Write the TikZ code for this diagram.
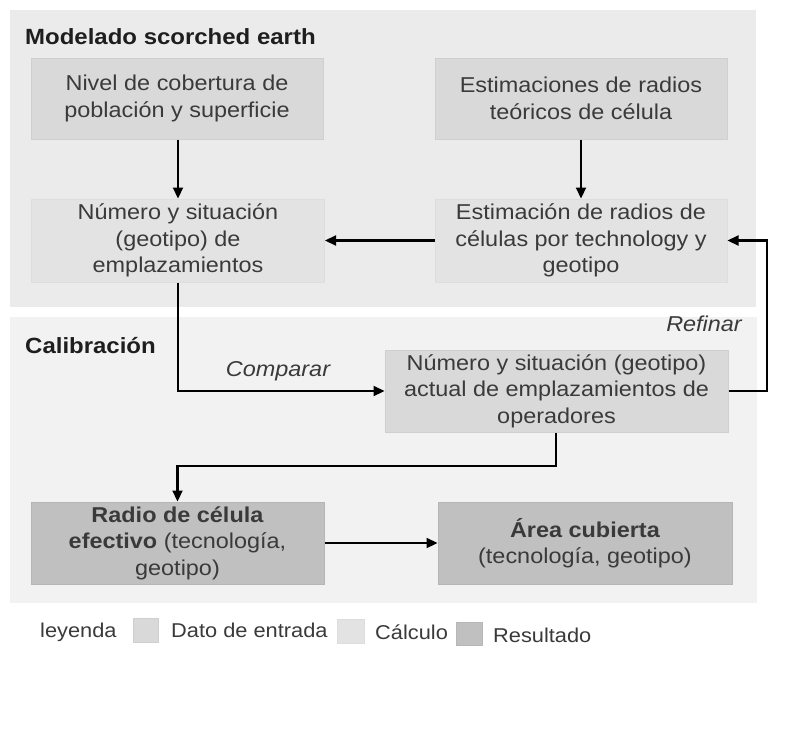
\documentclass[tikz,border=0pt]{standalone}
\usepackage{fontspec}
\setmainfont{Liberation Sans}[FakeStretch=1.09]
\usetikzlibrary{arrows.meta}
\definecolor{panelA}{HTML}{EBEBEB}
\definecolor{panelB}{HTML}{F2F2F2}
\definecolor{inputfill}{HTML}{D9D9D9}
\definecolor{inputline}{HTML}{CFCFCF}
\definecolor{calcfill}{HTML}{E3E3E3}
\definecolor{calcline}{HTML}{DDDDDD}
\definecolor{resfill}{HTML}{C0C0C0}
\definecolor{resline}{HTML}{B6B6B6}
\definecolor{boxtext}{HTML}{3A3A3A}
\definecolor{headtext}{HTML}{1E1E1E}
\begin{document}
\begin{tikzpicture}[x=1pt,y=-1pt,
  boxbase/.style={rectangle, align=center, inner sep=0pt, line width=1pt,
    text=boxtext, font=\fontsize{21.5}{26.5}\selectfont},
  inbox/.style={boxbase, fill=inputfill, draw=inputline},
  calcbox/.style={boxbase, fill=calcfill, draw=calcline},
  resbox/.style={boxbase, fill=resfill, draw=resline},
  heading/.style={anchor=base west, inner sep=0pt, text=headtext,
    font=\fontsize{22}{26}\selectfont\bfseries},
  lbl/.style={inner sep=0pt, text=boxtext, font=\fontsize{21.5}{25}\selectfont\itshape},
  legtext/.style={anchor=base west, inner sep=0pt, text=boxtext,
    font=\fontsize{20}{24}\selectfont},
  swatch/.style={rectangle, inner sep=0pt, minimum width=25pt, minimum height=24pt, line width=1pt},
  conn/.style={line width=2.2pt, -{Triangle[length=11pt,width=10pt]}},
]
\useasboundingbox (0,0) rectangle (809,736);
\fill[white] (0,0) rectangle (809,736);
% panels
\fill[panelA] (10,10) rectangle (756,307);
\fill[panelB] (10,317) rectangle (757,603);
% headings
\node[heading] (h1) at (25,44) {Modelado scorched earth};
\node[heading] (h2) at (25,353) {Calibración};
% boxes
\node[inbox, minimum width=292pt, minimum height=81pt] (A) at (177,98.5)
  {Nivel de cobertura de\\población y superficie};
\node[inbox, minimum width=292pt, minimum height=81pt] (C) at (581,98.5)
  {Estimaciones de radios\\teóricos de célula};
\node[calcbox, minimum width=293pt, minimum height=83pt] (B) at (178,240.5)
  {Número y situación\\(geotipo) de\\emplazamientos};
\node[calcbox, minimum width=292pt, minimum height=83pt] (D) at (581,240.5)
  {Estimación de radios de\\células por technology y\\geotipo};
\node[inbox, minimum width=343pt, minimum height=82pt] (E) at (556.5,391)
  {Número y situación (geotipo)\\actual de emplazamientos de\\operadores};
\node[resbox, minimum width=293pt, minimum height=82pt] (F) at (177.5,543)
  {\textbf{Radio de célula}\\\textbf{efectivo} (tecnología,\\geotipo)};
\node[resbox, minimum width=294pt, minimum height=82pt] (G) at (585,543)
  {\textbf{Área cubierta}\\(tecnología, geotipo)};
% labels
\node[lbl] (cmp) at (278,371) {Comparar};
\node[lbl, anchor=east] (ref) at (742,324) {Refinar};
% helper coordinates
\coordinate (b1) at (178,391);
\coordinate (r1) at (767,391);
\coordinate (r2) at (767,240.5);
\coordinate (e1) at (556,466);
\coordinate (e2) at (177.5,466);
% connectors
\draw[conn] (A.south -| B.north) -- (B.north);
\draw[conn] (C.south) -- (D.north);
\draw[conn] (D.west) -- (B.east);
\draw[conn] (B.south) -- (b1) -- (E.west);
\draw[conn] (E.east) -- (r1) -- (r2) -- (D.east);
\draw[conn] (E.south -| e1) -- (e1) -- (e2) -- (F.north);
\draw[conn] (F.east) -- (G.west);
% legend
\node[legtext] (l0) at (40,637) {leyenda};
\node[swatch, fill=inputfill, draw=inputline] (s1) at (145.5,630) {};
\node[legtext] (l1) at (171,637) {Dato de entrada};
\node[swatch, fill=calcfill, draw=calcline, minimum width=27pt] (s2) at (350.5,631) {};
\node[legtext] (l2) at (375,639) {Cálculo};
\node[swatch, fill=resfill, draw=resline, minimum width=26pt, minimum height=23pt] (s3) at (469,633.5) {};
\node[legtext] (l3) at (493,642) {Resultado};
\end{tikzpicture}
\end{document}
